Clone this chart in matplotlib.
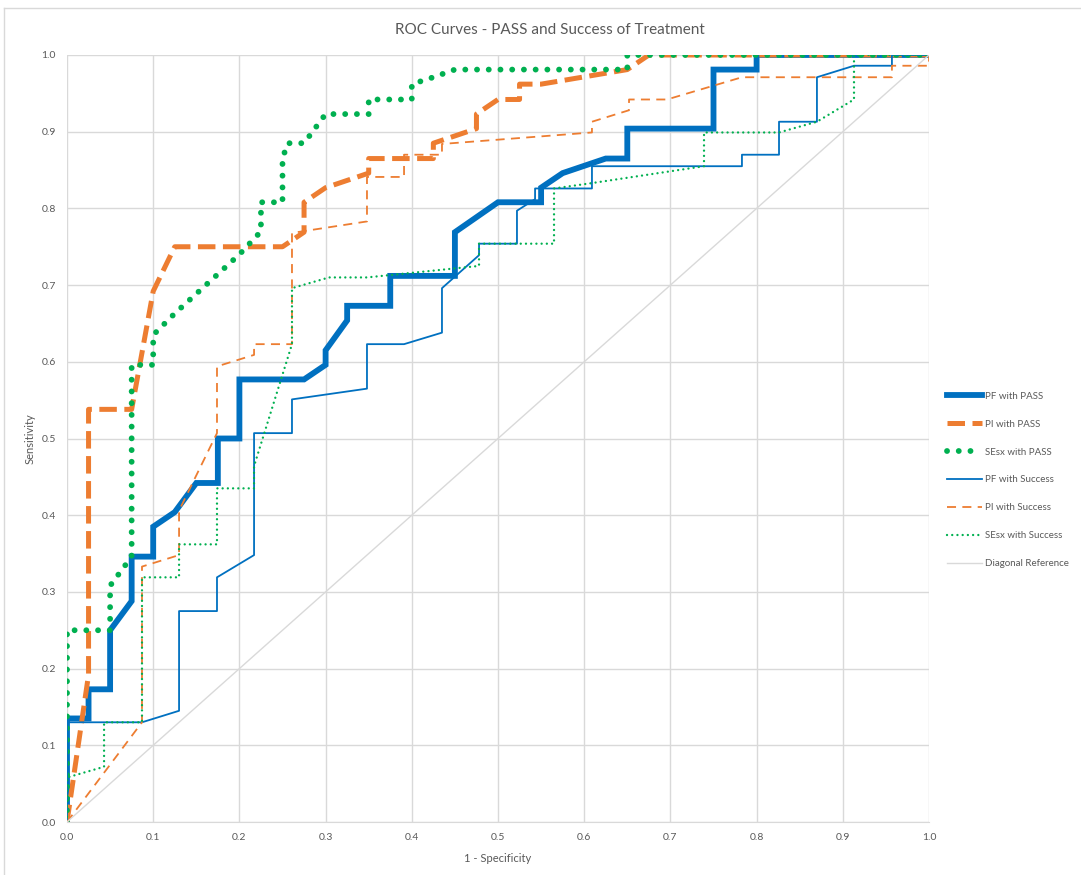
import matplotlib
matplotlib.use("Agg")
import matplotlib.pyplot as plt
from matplotlib.lines import Line2D

plt.rcParams['font.family'] = ['Lato', 'DejaVu Sans']

# ROC points (x = 1 - specificity, y = sensitivity)
pf_pass_x = [0, 0, 0.025, 0.025, 0.05, 0.05, 0.075, 0.075, 0.1, 0.1, 0.125, 0.15, 0.175, 0.175, 0.2, 0.2,
             0.275, 0.3, 0.3, 0.325, 0.325, 0.375, 0.375, 0.45, 0.45, 0.5, 0.55, 0.55, 0.575, 0.625, 0.65,
             0.65, 0.75, 0.75, 0.8, 0.8, 1.0]
pf_pass_y = [0, 0.135, 0.135, 0.173, 0.173, 0.25, 0.288, 0.346, 0.346, 0.385, 0.404, 0.442, 0.442, 0.5, 0.5,
             0.577, 0.577, 0.596, 0.615, 0.654, 0.673, 0.673, 0.712, 0.712, 0.769, 0.808, 0.808, 0.827, 0.846,
             0.865, 0.865, 0.904, 0.904, 0.981, 0.981, 1.0, 1.0]

pi_pass_x = [0, 0.025, 0.025, 0.075, 0.1, 0.125, 0.25, 0.275, 0.275, 0.3, 0.35, 0.35, 0.425, 0.425, 0.475,
             0.475, 0.5, 0.525, 0.525, 0.55, 0.65, 0.675, 1.0]
pi_pass_y = [0, 0.192, 0.538, 0.538, 0.692, 0.75, 0.75, 0.769, 0.808, 0.827, 0.846, 0.865, 0.865, 0.885,
             0.904, 0.923, 0.942, 0.942, 0.962, 0.962, 0.981, 1.0, 1.0]

sesx_pass_x = [0, 0, 0.05, 0.05, 0.075, 0.075, 0.1, 0.1, 0.125, 0.2, 0.225, 0.225, 0.25, 0.25, 0.256, 0.275,
               0.3, 0.35, 0.35, 0.4, 0.4, 0.425, 0.45, 0.65, 0.65, 1.0]
sesx_pass_y = [0, 0.25, 0.25, 0.308, 0.346, 0.596, 0.596, 0.635, 0.663, 0.74, 0.77, 0.808, 0.808, 0.865,
               0.885, 0.885, 0.923, 0.923, 0.942, 0.942, 0.962, 0.971, 0.981, 0.981, 1.0, 1.0]

pf_succ_x = [0, 0, 0.087, 0.130, 0.130, 0.174, 0.174, 0.217, 0.217, 0.261, 0.261, 0.348, 0.348, 0.391, 0.435,
             0.435, 0.478, 0.478, 0.522, 0.522, 0.543, 0.543, 0.609, 0.609, 0.783, 0.783, 0.826, 0.826, 0.870,
             0.870, 0.913, 0.957, 0.957, 1.0]
pf_succ_y = [0, 0.130, 0.130, 0.145, 0.275, 0.275, 0.319, 0.348, 0.507, 0.507, 0.551, 0.565, 0.623, 0.623,
             0.638, 0.696, 0.739, 0.754, 0.754, 0.797, 0.812, 0.826, 0.826, 0.855, 0.855, 0.870, 0.870, 0.913,
             0.913, 0.971, 0.986, 0.986, 1.0, 1.0]

pi_succ_x = [0, 0.087, 0.087, 0.130, 0.130, 0.174, 0.174, 0.217, 0.217, 0.261, 0.261, 0.348, 0.348, 0.391,
             0.391, 0.435, 0.435, 0.609, 0.609, 0.652, 0.652, 0.696, 0.783, 0.957, 0.957, 1.0, 1.0]
pi_succ_y = [0, 0.130, 0.333, 0.348, 0.406, 0.507, 0.594, 0.609, 0.623, 0.623, 0.768, 0.783, 0.841, 0.841,
             0.870, 0.870, 0.884, 0.899, 0.913, 0.928, 0.942, 0.942, 0.971, 0.971, 0.986, 0.986, 1.0]

sesx_succ_x = [0, 0, 0.043, 0.043, 0.087, 0.087, 0.130, 0.130, 0.174, 0.174, 0.217, 0.217, 0.261, 0.261,
               0.304, 0.348, 0.478, 0.478, 0.565, 0.565, 0.609, 0.739, 0.739, 0.826, 0.870, 0.913, 0.913, 1.0]
sesx_succ_y = [0, 0.058, 0.072, 0.130, 0.130, 0.319, 0.319, 0.362, 0.362, 0.435, 0.435, 0.464, 0.623, 0.696,
               0.710, 0.710, 0.725, 0.754, 0.754, 0.826, 0.833, 0.855, 0.899, 0.899, 0.913, 0.942, 1.0, 1.0]

diag_x = [0, 1]
diag_y = [0, 1]

ticks = [i / 10 for i in range(11)]

blue = '#0070C0'
orange = '#ED7D31'
green = '#00B050'
grey_txt = '#595959'

fig = plt.figure(figsize=(10.81, 8.75), dpi=100)
ax = fig.add_axes([67 / 1081, 1 - 822 / 875, 862 / 1081, 767 / 875])

# chart border like the spreadsheet export
fig.add_artist(Line2D([4 / 1081, 1], [1 - 8 / 875, 1 - 8 / 875], color='#d9d9d9', lw=1))
fig.add_artist(Line2D([4 / 1081, 4 / 1081], [0, 1 - 8 / 875], color='#d9d9d9', lw=1))

ax.plot(pf_pass_x, pf_pass_y, color=blue, lw=4.2, solid_joinstyle='miter', label='PF with PASS')
ax.plot(pi_pass_x, pi_pass_y, color=orange, lw=3.6, dashes=(3.5, 1.5), label='PI with PASS')
ax.plot(sesx_pass_x, sesx_pass_y, color=green, lw=4.2, dashes=(0.01, 2.0), dash_capstyle='round',
        label='SEsx with PASS')
ax.plot(pf_succ_x, pf_succ_y, color=blue, lw=1.3, label='PF with Success')
ax.plot(pi_succ_x, pi_succ_y, color=orange, lw=1.3, dashes=(5, 3.5), label='PI with Success')
ax.plot(sesx_succ_x, sesx_succ_y, color=green, lw=1.7, dashes=(0.01, 2.2), dash_capstyle='round',
        label='SEsx with Success')
ax.plot(diag_x, diag_y, color='#d9d9d9', lw=1.0, label='Diagonal Reference')

ax.set_xlim(0, 1)
ax.set_ylim(0, 1)
ax.set_xticks(ticks)
ax.set_yticks(ticks)
ax.set_xticklabels(['%.1f' % t for t in ticks])
ax.set_yticklabels(['%.1f' % t for t in ticks])
ax.grid(True, color='#d9d9d9', lw=1)
ax.set_axisbelow(True)
for s in ['top', 'right', 'left']:
    ax.spines[s].set_visible(False)
ax.spines['bottom'].set_color('#d9d9d9')
ax.tick_params(length=0, labelsize=7.5, colors=grey_txt, pad=8)

ax.set_xlabel('1 - Specificity', fontsize=8, color=grey_txt, labelpad=8)
ax.set_ylabel('Sensitivity', fontsize=8, color=grey_txt, labelpad=4)
fig.text(550 / 1081, 1 - 30 / 875, 'ROC Curves - PASS and Success of Treatment', ha='center', va='center',
         fontsize=11, color=grey_txt)

fig.legend(loc='center left', bbox_to_anchor=(938 / 1081, 1 - 480 / 875), frameon=False,
           fontsize=7, labelspacing=1.95, handlelength=3.6, handletextpad=0.3, labelcolor=grey_txt)

fig.savefig('out.png', dpi=100)
